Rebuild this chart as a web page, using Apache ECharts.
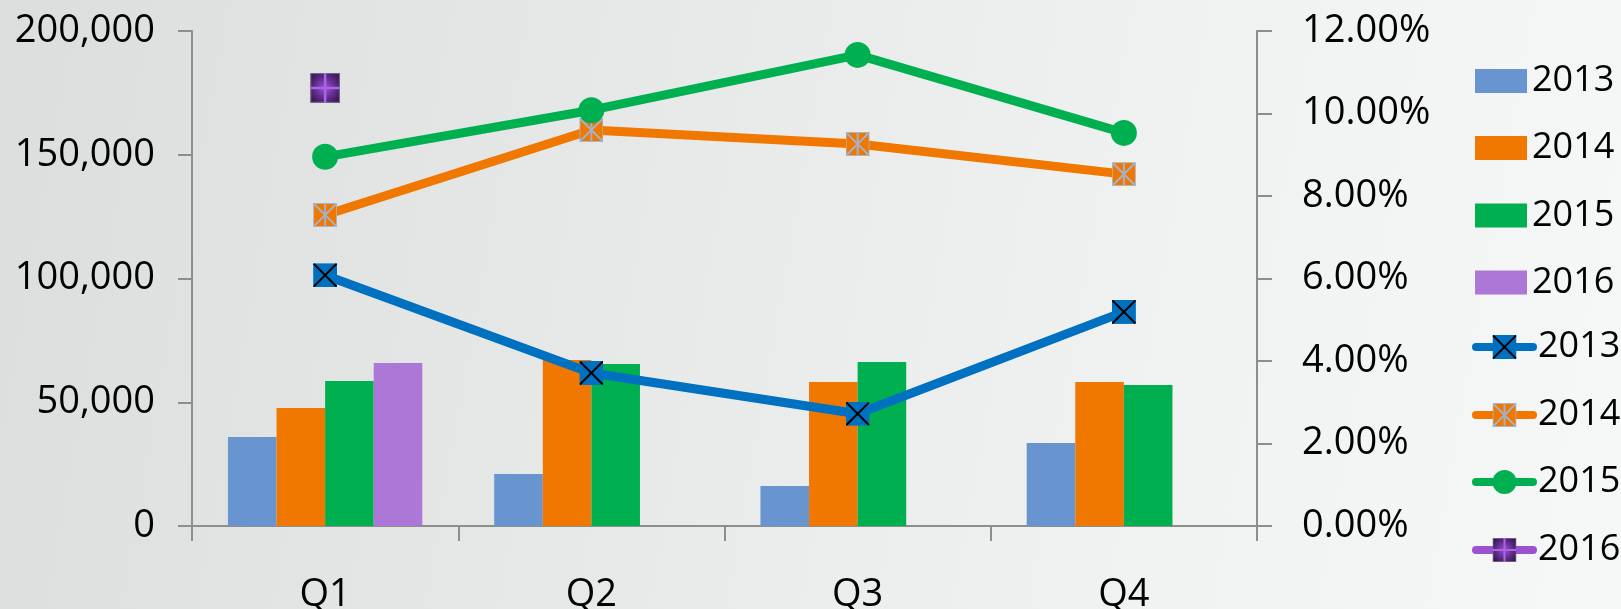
<!DOCTYPE html>
<html>
<head>
<meta charset="utf-8">
<script src="https://cdn.jsdelivr.net/npm/echarts@6/dist/echarts.min.js"></script>
<style>
html,body{margin:0;padding:0;width:1621px;height:609px;overflow:hidden;
background:linear-gradient(100deg,#dcdede 0%,#e6e8e8 35%,#f0f1f1 70%,#f6f7f7 100%);}
#c{width:1621px;height:609px;}
</style>
</head>
<body>
<div id="c"></div>
<script>
// ---- data ----
const categories = ['Q1', 'Q2', 'Q3', 'Q4'];
const years = ['2013', '2014', '2015', '2016'];
const bar2013 = [36000, 21000, 16200, 33500];
const bar2014 = [47700, 67100, 58200, 58200];
const bar2015 = [58600, 65500, 66300, 57000];
const bar2016 = [65900, null, null, null];
const pct2013 = [6.08, 3.71, 2.72, 5.19];
const pct2014 = [7.54, 9.60, 9.26, 8.53];
const pct2015 = [8.95, 10.08, 11.42, 9.53];
const pct2016 = [10.62, null, null, null];
const leftTicks = { min: 0, max: 200000, interval: 50000 };
const rightTicks = { min: 0, max: 12, interval: 2 };

// ---- styles ----
const FONT = '"Open Sans"';
const FS = 38;
const LFS = 36;
const axisGray = '#8e8e8e';
const barColors = ['#6894cf', '#f07800', '#00af50', '#ad77d8'];
const lineColors = ['#0070c0', '#f07800', '#00b050', '#9a52d0'];

function svgImg(s) { return 'image://data:image/svg+xml;charset=utf-8,' + encodeURIComponent(s); }
const sym2013 = svgImg("<svg xmlns='http://www.w3.org/2000/svg' width='48' height='48'><rect x='0' y='0' width='48' height='48' fill='#0070c0'/><path d='M1 1L47 47M47 1L1 47' stroke='#000' stroke-width='4'/></svg>");
const sym2014 = svgImg("<svg xmlns='http://www.w3.org/2000/svg' width='48' height='48'><rect x='1' y='1' width='46' height='46' fill='#f07800' stroke='#a9b6c6' stroke-width='2'/><path d='M1 1L47 47M47 1L1 47M24 0V48' stroke='#a3b2c8' stroke-width='4'/></svg>");
const sym2016 = svgImg("<svg xmlns='http://www.w3.org/2000/svg' width='48' height='48'><defs><radialGradient id='g' cx='0.5' cy='0.5' r='0.6'><stop offset='0' stop-color='#9a4fd6'/><stop offset='1' stop-color='#3a1858'/></radialGradient></defs><rect x='1' y='1' width='46' height='46' fill='url(#g)' stroke='#6e6080' stroke-width='2'/><path d='M24 0V48M0 24H48' stroke='#a866e6' stroke-width='4'/></svg>");
const lineSymbols = [sym2013, sym2014, 'circle', sym2016];
const lineSymbolSizes = [24, 24, 26, 30];

const barData = [bar2013, bar2014, bar2015, bar2016];
const pctData = [pct2013, pct2014, pct2015, pct2016];

const series = [];
years.forEach((y, i) => {
  series.push({
    name: y, type: 'bar', yAxisIndex: 0, data: barData[i],
    barGap: '0%', barCategoryGap: '27%',
    itemStyle: { color: barColors[i] }
  });
});
years.forEach((y, i) => {
  series.push({
    name: y + ' ', type: 'line', yAxisIndex: 1, data: pctData[i],
    symbol: lineSymbols[i], symbolSize: lineSymbolSizes[i], showAllSymbol: true,
    lineStyle: { color: lineColors[i], width: 9, cap: 'round', join: 'round' },
    itemStyle: { color: lineColors[i] },
    z: 5 + i
  });
});

// legends: one per entry for exact placement
const barLegendCenters = [75, 142, 209.5, 276.5];
const lineLegendCenters = [344, 412, 479, 547];
const legends = [];
years.forEach((y, i) => {
  const h = 24;
  legends.push({
    orient: 'vertical', left: 1475, top: barLegendCenters[i] - h / 2, padding: 0,
    data: [{ name: y, icon: 'rect' }],
    itemWidth: 52, itemHeight: h,
    textStyle: { fontFamily: FONT, fontSize: LFS, color: '#000', lineHeight: h },
    selectedMode: false
  });
});
years.forEach((y, i) => {
  const h = 30;
  legends.push({
    orient: 'vertical', left: 1472, top: lineLegendCenters[i] - h / 2, padding: 0,
    data: [y + ' '],
    itemWidth: 57, itemHeight: h,
    formatter: n => n.trim(),
    lineStyle: { width: 8, cap: 'round' },
    textStyle: { fontFamily: FONT, fontSize: LFS, color: '#000', lineHeight: h },
    selectedMode: false
  });
});

const chart = echarts.init(document.getElementById('c'), null, { renderer: 'canvas' });
chart.setOption({
  animation: false,
  backgroundColor: 'transparent',
  textStyle: { fontFamily: FONT },
  grid: { left: 192, right: 364, top: 31, bottom: 83, containLabel: false, outerBoundsMode: 'none' },
  legend: legends,
  xAxis: {
    type: 'category', data: categories,
    axisLine: { lineStyle: { color: axisGray, width: 2 } },
    axisTick: { show: true, length: 15, lineStyle: { color: axisGray, width: 2 } },
    axisLabel: { color: '#000', fontSize: FS, fontFamily: FONT, margin: 50 }
  },
  yAxis: [
    {
      type: 'value', min: leftTicks.min, max: leftTicks.max, interval: leftTicks.interval,
      axisLine: { show: true, lineStyle: { color: axisGray, width: 2 } },
      axisTick: { show: true, length: 14, lineStyle: { color: axisGray, width: 2 } },
      splitLine: { show: false },
      axisLabel: { color: '#000', fontSize: FS, fontFamily: FONT, margin: 37,
        formatter: v => v.toLocaleString('en-US') }
    },
    {
      type: 'value', min: rightTicks.min, max: rightTicks.max, interval: rightTicks.interval,
      position: 'right',
      axisLine: { show: true, lineStyle: { color: axisGray, width: 2 } },
      axisTick: { show: true, length: 15, lineStyle: { color: axisGray, width: 2 } },
      splitLine: { show: false },
      axisLabel: { color: '#000', fontSize: FS, fontFamily: FONT, margin: 45,
        formatter: v => v.toFixed(2) + '%' }
    }
  ],
  series: series
});
</script>
</body>
</html>
